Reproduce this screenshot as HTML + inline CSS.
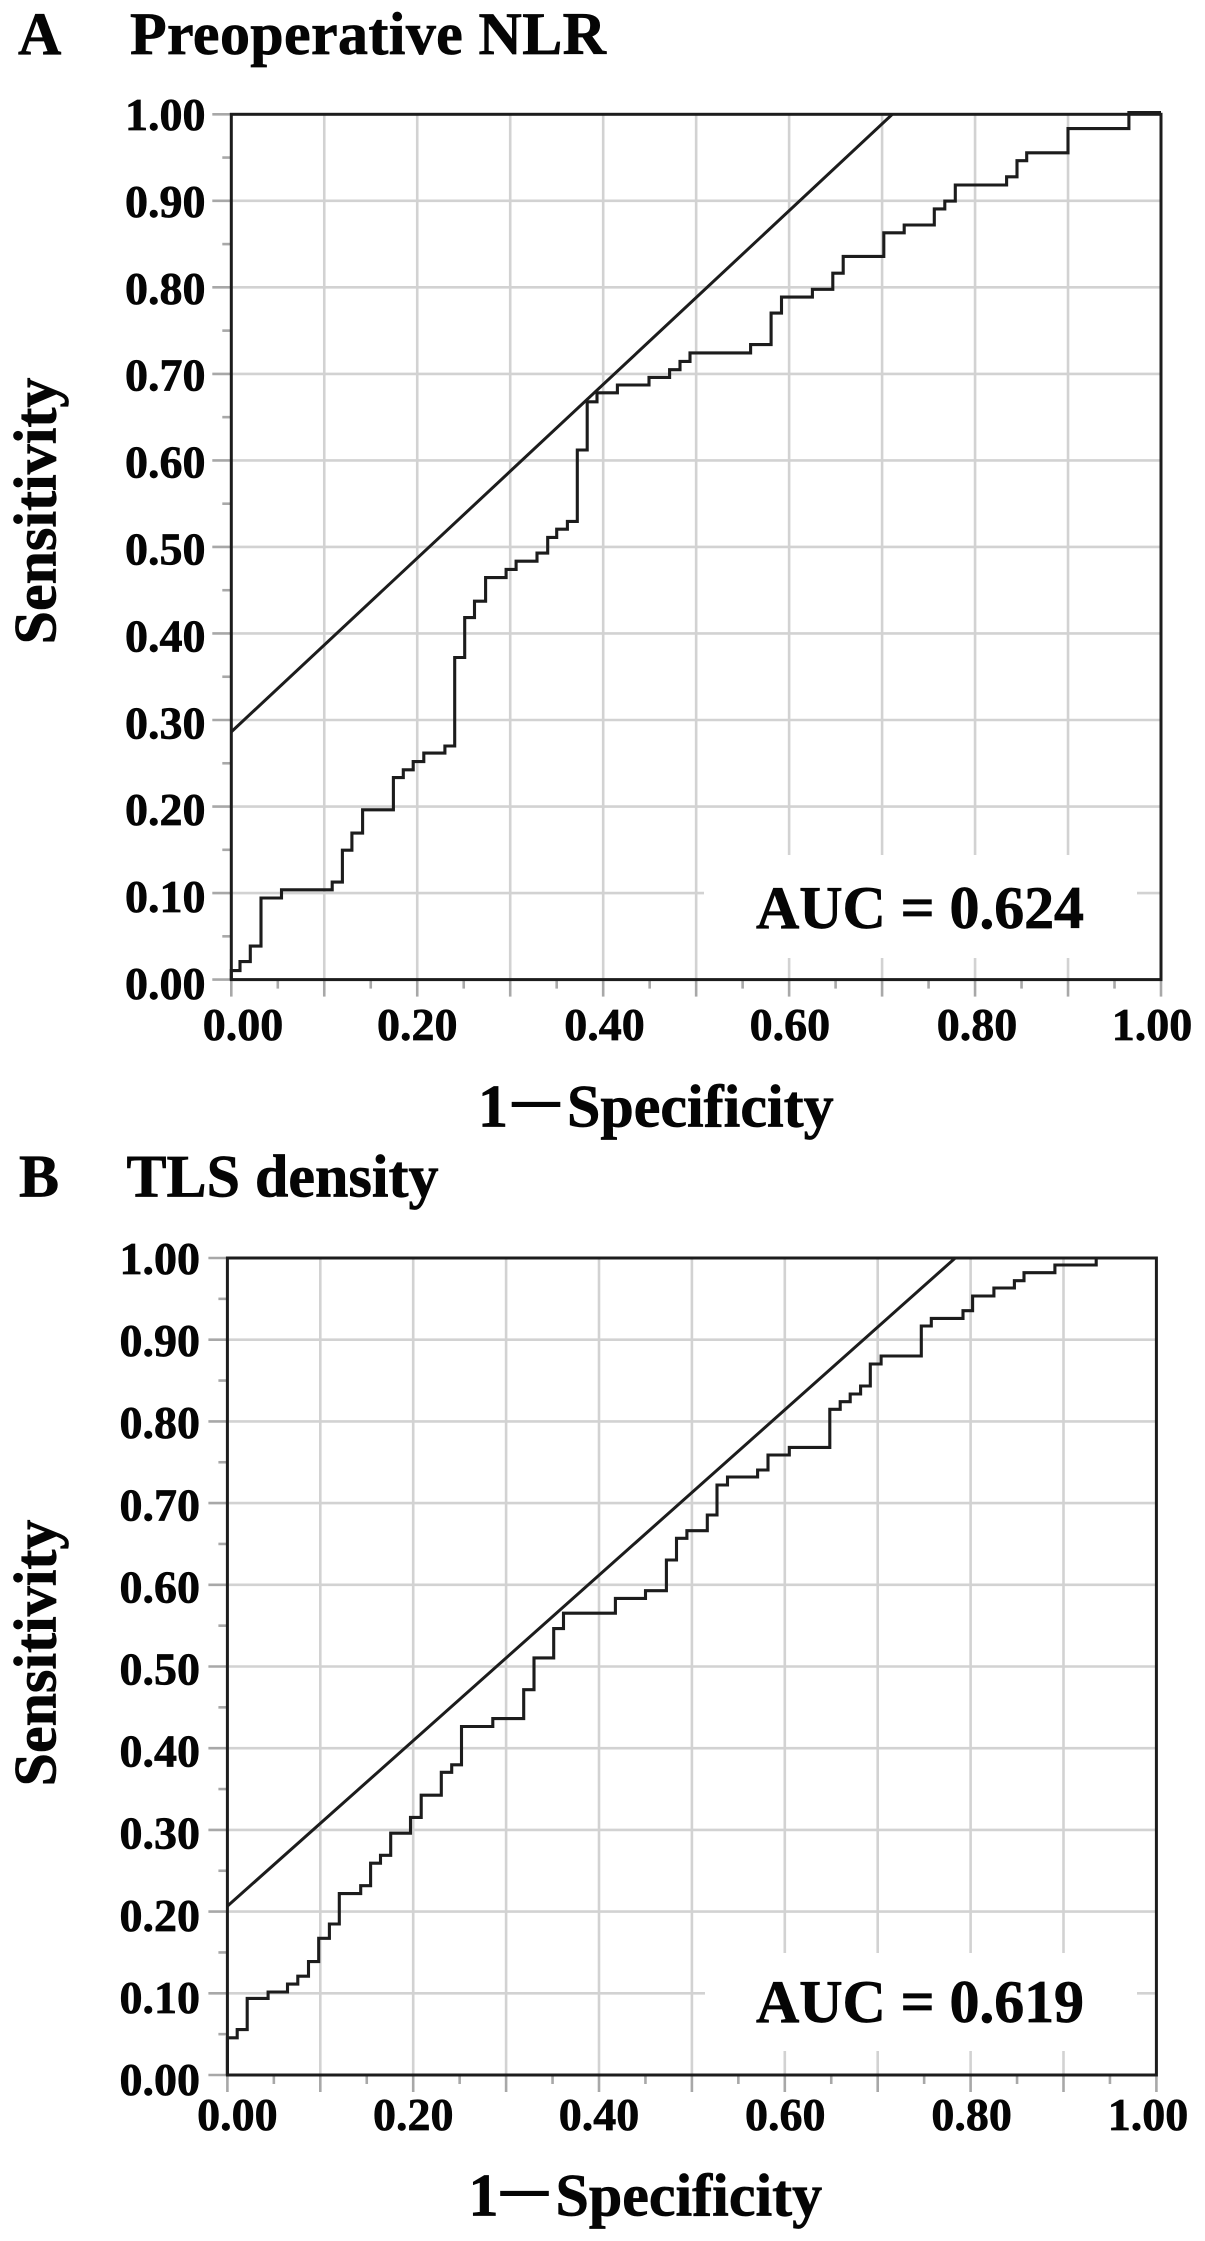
<!DOCTYPE html>
<html lang="en">
<head>
<meta charset="utf-8">
<title>ROC curves</title>
<style>
html,body{margin:0;padding:0;background:#fff;}
svg{display:block;}
text{font-family:"Liberation Serif","Noto Serif CJK SC",serif;font-weight:bold;fill:#050505;stroke:#050505;stroke-width:0.7px;}
.big{font-size:60px;}
.tick{font-size:46px;}
</style>
</head>
<body>
<svg id="figure" xmlns="http://www.w3.org/2000/svg" width="1205" height="2241" viewBox="0 0 1205 2241">
  <rect x="0" y="0" width="1205" height="2241" fill="#fff"/>

  <g id="panel-a"></g>
  <g id="panel-b"></g>

  <text class="big" x="18" y="54">A</text>
  <text class="big" x="130" y="54" textLength="476">Preoperative NLR</text>
  <text class="big" x="756" y="928" textLength="328">AUC = 0.624</text>
  <text class="big" x="478" y="1126.5"><tspan>1</tspan><tspan dx="5" dy="-11.5" font-size="46" style="stroke-width:2px">—</tspan><tspan dx="8" dy="11.5">Specificity</tspan></text>
  <text class="big" x="0" y="0" text-anchor="middle" transform="translate(55.5 511) rotate(-90)">Sensitivity</text>

  <text class="big" x="19" y="1196.5">B</text>
  <text class="big" x="126.5" y="1196.5" textLength="312">TLS density</text>
  <text class="big" x="756" y="2022" textLength="328">AUC = 0.619</text>
  <text class="big" x="468.5" y="2215.5"><tspan>1</tspan><tspan dx="3" dy="-11.5" font-size="46" style="stroke-width:2px">—</tspan><tspan dx="8" dy="11.5">Specificity</tspan></text>
  <text class="big" x="0" y="0" text-anchor="middle" transform="translate(55.5 1653) rotate(-90)">Sensitivity</text>
</svg>

<script>
// Shared axis values
const gridValues = [0.1, 0.2, 0.3, 0.4, 0.5, 0.6, 0.7, 0.8, 0.9];
const minorTickValues = [0.05, 0.15, 0.25, 0.35, 0.45, 0.55, 0.65, 0.75, 0.85, 0.95];
const majorTickValues = [0, 0.1, 0.2, 0.3, 0.4, 0.5, 0.6, 0.7, 0.8, 0.9, 1];
const yTickLabels = ['0.00', '0.10', '0.20', '0.30', '0.40', '0.50', '0.60', '0.70', '0.80', '0.90', '1.00'];
const xTickLabels = ['0.00', '0.20', '0.40', '0.60', '0.80', '1.00'];

// Panel A: Preoperative NLR (step vertices: move across to fpr, then up to tpr)
const nlrFpr = [0, 0.0094, 0.0204, 0.0319, 0.054, 0.1085, 0.1195, 0.1297, 0.1412, 0.1744, 0.185, 0.1957, 0.2071, 0.2297, 0.2403, 0.251, 0.2616, 0.2735, 0.2956, 0.3063, 0.3288, 0.3403, 0.35, 0.3615, 0.3722, 0.3828, 0.3934, 0.4153, 0.4493, 0.4714, 0.4826, 0.4934, 0.5586, 0.5806, 0.5918, 0.625, 0.647, 0.6582, 0.7018, 0.7238, 0.7562, 0.7674, 0.7787, 0.8339, 0.8451, 0.8555, 0.9, 0.9655, 1];
const nlrTpr = [0.0104, 0.0208, 0.0387, 0.0943, 0.1038, 0.1127, 0.1495, 0.1693, 0.1962, 0.2335, 0.2425, 0.2519, 0.2618, 0.27, 0.3722, 0.4184, 0.4373, 0.4646, 0.4741, 0.4835, 0.4929, 0.511, 0.5205, 0.5295, 0.612, 0.6678, 0.6781, 0.6872, 0.696, 0.7049, 0.7144, 0.7243, 0.7338, 0.7702, 0.7887, 0.7978, 0.8164, 0.8358, 0.863, 0.8721, 0.8907, 0.8997, 0.9183, 0.9278, 0.9464, 0.9555, 0.9835, 1.002, 1.002];
const nlrCutoffLineX = [0, 0.711];
const nlrCutoffLineY = [0.2863, 1];

// Panel B: TLS density
const tlsFpr = [0, 0.0106, 0.0213, 0.0438, 0.0647, 0.0758, 0.0873, 0.0983, 0.1098, 0.1205, 0.1435, 0.1541, 0.1648, 0.1758, 0.1971, 0.2086, 0.2303, 0.2414, 0.252, 0.2857, 0.3189, 0.33, 0.3512, 0.3618, 0.4177, 0.4501, 0.4726, 0.4834, 0.4946, 0.5166, 0.527, 0.5383, 0.5707, 0.5819, 0.6048, 0.6484, 0.6596, 0.6704, 0.6816, 0.692, 0.7037, 0.7469, 0.7577, 0.7918, 0.8022, 0.8251, 0.8471, 0.8575, 0.8907, 0.9352, 1];
const tlsTpr = [0.0455, 0.0556, 0.0937, 0.1016, 0.1112, 0.1209, 0.1388, 0.1673, 0.1848, 0.222, 0.2317, 0.2592, 0.2689, 0.296, 0.3153, 0.3425, 0.3705, 0.3797, 0.4265, 0.4362, 0.4716, 0.5105, 0.5464, 0.5652, 0.5834, 0.5928, 0.6303, 0.6569, 0.6662, 0.6854, 0.7221, 0.7319, 0.7405, 0.7589, 0.7682, 0.8148, 0.8241, 0.8335, 0.8433, 0.8702, 0.88, 0.9168, 0.9261, 0.9355, 0.9535, 0.9633, 0.9722, 0.982, 0.9914, 1, 1];
const tlsCutoffLineX = [0, 0.7835];
const tlsCutoffLineY = [0.2067, 1];

const SVG_NS = 'http://www.w3.org/2000/svg';
const INK = '#1c1c1c';
const GRID = '#d2d2d2';
const TICK = '#a8a8a8';

function make(parent, tag, attrs) {
  const el = document.createElementNS(SVG_NS, tag);
  for (const k in attrs) el.setAttribute(k, attrs[k]);
  parent.appendChild(el);
  return el;
}

function drawPanel(p) {
  const root = document.getElementById(p.id);
  const xScale = v => p.left + (p.right - p.left) * v;
  const yScale = v => p.bottom - (p.bottom - p.top) * v;

  // gridlines
  gridValues.forEach(v => {
    const h = make(root, 'line', { x1: p.left, x2: p.right, y1: yScale(v), y2: yScale(v), stroke: GRID, 'stroke-width': 2.6 });
    
    
    const g = make(root, 'line', { x1: xScale(v), x2: xScale(v), y1: p.top, y2: p.bottom, stroke: GRID, 'stroke-width': 2.6 });
    
    
  });

  // white backing behind the AUC label
  const box = make(root, 'rect', { x: p.box[0], y: p.box[1], width: p.box[2], height: p.box[3], fill: '#fff' });
  
  

  // major ticks
  majorTickValues.forEach(v => {
    const ty = make(root, 'line', { x1: p.left - 19, x2: p.left, y1: yScale(v), y2: yScale(v), stroke: TICK, 'stroke-width': 2.6 });
    
    
    const tx = make(root, 'line', { x1: xScale(v), x2: xScale(v), y1: p.bottom, y2: p.bottom + 17, stroke: TICK, 'stroke-width': 2.6 });
    
    
  });

  // minor ticks
  minorTickValues.forEach(v => {
    const ty = make(root, 'line', { x1: p.left - 9, x2: p.left, y1: yScale(v), y2: yScale(v), stroke: TICK, 'stroke-width': 2.6 });
    
    
    const tx = make(root, 'line', { x1: xScale(v), x2: xScale(v), y1: p.bottom, y2: p.bottom + 9, stroke: TICK, 'stroke-width': 2.6 });
    
    
  });

  // plot frame
  const frame = make(root, 'rect', { x: p.left, y: p.top, width: p.right - p.left, height: p.bottom - p.top, fill: 'none', stroke: INK, 'stroke-width': 3 });
  
  

  // cutoff line
  const cut = make(root, 'line', {
    x1: xScale(p.lineX[0]), y1: yScale(p.lineY[0]),
    x2: xScale(p.lineX[1]), y2: yScale(p.lineY[1]),
    stroke: INK, 'stroke-width': 3
  });
  
  

  // ROC step curve
  let d = 'M' + xScale(0) + ' ' + yScale(0);
  p.fpr.forEach((x, i) => {
    d += ' H' + xScale(x).toFixed(1) + ' V' + yScale(p.tpr[i]).toFixed(1);
  });
  const curve = make(root, 'path', { d: d, fill: 'none', stroke: INK, 'stroke-width': 3.1, 'stroke-linejoin': 'miter' });
  
  

  // y tick labels
  yTickLabels.forEach(label => {
    const v = parseFloat(label);
    const t = make(root, 'text', { class: 'tick', x: p.yLabelX, y: p.yLabelBottom - (p.yLabelBottom - p.yLabelTop) * v, 'text-anchor': 'end' });
    t.textContent = label;
    
    
  });

  // x tick labels (the original figure pushes the end labels inward)
  xTickLabels.forEach((label, i) => {
    const v = parseFloat(label);
    const t = make(root, 'text', { class: 'tick', x: xScale(v) + p.xNudge[i], y: p.xLabelY, 'text-anchor': 'middle' });
    t.textContent = label;
    
    
  });
}

drawPanel({
  id: 'panel-a', left: 231.3, right: 1161, top: 114.3, bottom: 979.6,
  box: [704, 855, 433, 103],
  yLabelX: 205.5, yLabelTop: 130, yLabelBottom: 999,
  xLabelY: 1040, xNudge: [11.7, 0, 1.3, 0.8, 1.9, -9],
  fpr: nlrFpr, tpr: nlrTpr, lineX: nlrCutoffLineX, lineY: nlrCutoffLineY
});

drawPanel({
  id: 'panel-b', left: 227.4, right: 1156.4, top: 1258, bottom: 2075,
  box: [705, 1953, 432, 98],
  yLabelX: 200, yLabelTop: 1274, yLabelBottom: 2095,
  xLabelY: 2130, xNudge: [10, 0, 0, 0.5, 1, -8.4],
  fpr: tlsFpr, tpr: tlsTpr, lineX: tlsCutoffLineX, lineY: tlsCutoffLineY
});
</script>
</body>
</html>
